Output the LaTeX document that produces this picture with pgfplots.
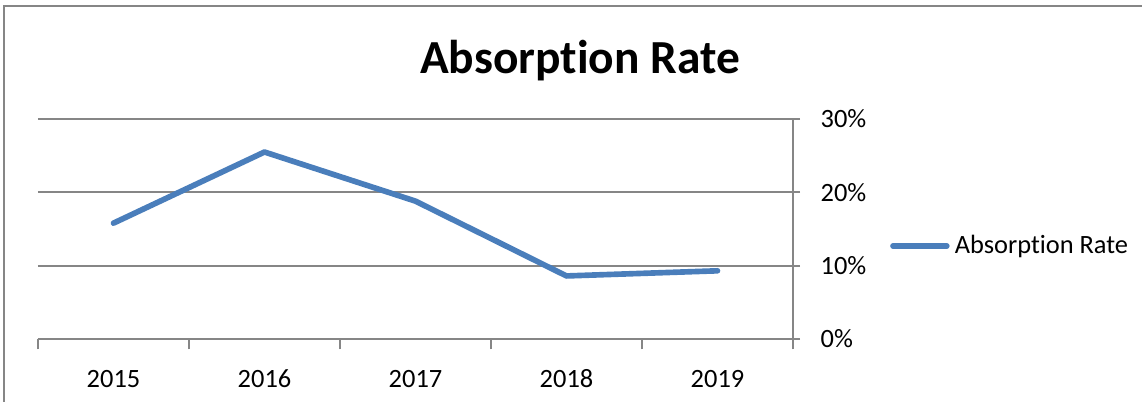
\documentclass[border=0pt]{standalone}
\usepackage{fontspec}
\setmainfont{Carlito}[Ligatures=NoCommon]
\usepackage{pgfplots}
\pgfplotsset{compat=1.18}
\definecolor{lineblue}{RGB}{74,126,187}
\definecolor{gridgray}{RGB}{134,134,134}
\begin{document}
\begin{tikzpicture}[x=0.39pt,y=0.39pt]
\useasboundingbox (0,0) rectangle (1142,401);
\draw[gridgray, line width=0.8pt] (4,395) rectangle (1170,-30);
\begin{axis}[
  at={(14.82pt,24.18pt)}, anchor=south west,
  scale only axis, width=294.45pt, height=85.8pt,
  xmin=0.5, xmax=5.5, ymin=0, ymax=0.3,
  axis x line*=bottom, axis y line*=right,
  axis line style={gridgray, line width=0.8pt},
  xtick={1,2,3,4,5}, xticklabels={2015,2016,2017,2018,2019},
  major x tick style={draw=none},
  minor xtick={0.5,1.5,2.5,3.5,4.5,5.5},
  minor x tick style={gridgray, line width=0.8pt},
  minor tick length=4pt,
  xtick align=outside,
  ytick={0,0.1,0.2,0.3}, yticklabels={0\%,10\%,20\%,30\%},
  ytick align=center, major tick length=5.5pt,
  major y tick style={gridgray, line width=0.8pt},
  ymajorgrids, grid style={gridgray, line width=0.8pt},
  tick label style={font=\fontsize{10.3}{12}\selectfont, text=black},
  xticklabel style={yshift=-3pt},
  yticklabel style={xshift=4.5pt},
  title={Absorption Rate},
  title style={at={(0.718,1.136)}, anchor=base, font=\fontsize{18.5}{22}\selectfont\bfseries},
  legend style={at={(1.128,0.423)}, anchor=west, draw=none, fill=none,
    font=\fontsize{10.3}{12}\selectfont, inner sep=0pt},
  legend cell align=left,
  legend image code/.code={\draw[#1, line cap=round] (0pt,0pt) -- (21pt,0pt);},
  clip=false,
]
\addplot[lineblue, line width=2.2pt, line cap=round, line join=round] coordinates {
  (1,0.158) (2,0.255) (3,0.188) (4,0.086) (5,0.093)
};
\addlegendentry{Absorption Rate}
\end{axis}
\end{tikzpicture}
\end{document}
